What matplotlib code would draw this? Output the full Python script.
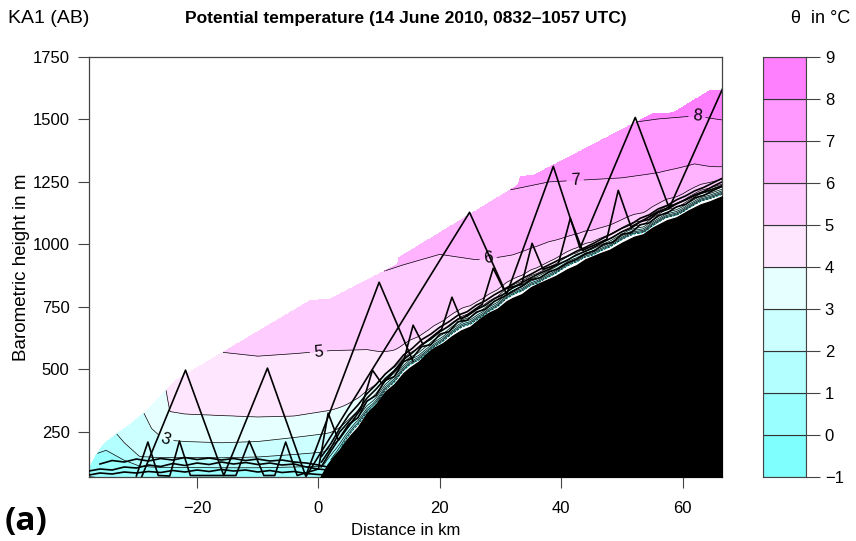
import numpy as np
import matplotlib
matplotlib.use("Agg")
import matplotlib.pyplot as plt

plt.rcParams['font.family'] = ['Liberation Sans', 'DejaVu Sans']

# ---- terrain along the cross section (km, m) ----
terrain_x = [-38.0, 0.0, 0.5, 1.5, 2.5, 3.5, 4.5, 5.3, 6.5, 8.0, 9.5, 11.0, 12.5, 14.0,
             15.0, 16.5, 18.0, 19.0, 20.5, 22.0, 23.5, 25.0, 26.5, 28.0, 29.5, 31.0,
             32.0, 33.5, 35.0, 36.0, 37.5, 39.0, 41.0, 42.5, 44.0, 46.4, 48.0, 50.0,
             52.0, 53.5, 55.0, 57.4, 59.0, 61.0, 63.0, 64.5, 66.5]
terrain_z = [40, 50, 75, 118, 150, 178, 212, 236, 268, 324, 360, 410, 440, 484,
             505, 530, 566, 585, 604, 632, 655, 670, 700, 725, 742, 772,
             785, 800, 828, 840, 856, 872, 900, 916, 940, 964, 978, 1006,
             1030, 1040, 1066, 1096, 1108, 1136, 1160, 1172, 1192]

# upper edge of the sampled area
top_x = [-37.8, -36.8, -35.4, -33.5, -31.0, -28.5, -26.5, -23.5, -1.3, 2.0,
         13.0, 13.05, 32.8, 33.3, 35.4, 55.1, 58.5, 64.5, 66.5]
top_z = [100, 150, 200, 236, 280, 330, 380, 456, 776, 782,
         920, 944, 1236, 1272, 1276, 1524, 1528, 1616, 1616]

# heights (m) of the isentropes 0..8 degC at fixed distances
col_x = [-37.8, -35, -32, -29.5, -27.5, -25.5, -24.5, -22, -16, -10, -4, 2,
         8, 14, 20, 26, 32, 38, 44, 50, 56, 62, 66.5]
th0 = [70, 62, 58, 56, 55, 55, 55, 55, 55, 55, 55, 58,
       120, 200, 250, 300, 360, 420, 480, 540, 600, 660, 700]
th1 = [150, 175, 135, 112, 108, 106, 106, 106, 105, 105, 108, 112,
       170, 260, 310, 360, 420, 480, 540, 600, 660, 720, 760]
th2 = [300, 290, 205, 150, 147, 146, 146, 146, 145, 148, 158, 170,
       225, 320, 370, 420, 480, 540, 600, 660, 720, 780, 820]
th3 = [450, 430, 400, 360, 262, 218, 215, 210, 205, 210, 226, 244,
       290, 380, 430, 480, 540, 600, 660, 720, 780, 840, 880]
th4 = [600, 570, 540, 510, 490, 470, 330, 320, 314, 308, 312, 335,
       375, 440, 490, 540, 600, 660, 720, 780, 840, 900, 940]
th5 = [760, 730, 700, 670, 650, 630, 620, 600, 568, 552, 562, 574,
       578, 552, 560, 620, 680, 740, 800, 860, 920, 980, 1020]
th6 = [920, 890, 860, 830, 810, 790, 780, 760, 740, 800, 840, 862,
       870, 918, 960, 938, 952, 1000, 1015, 985, 1045, 1100, 1140]
th7 = [1080, 1050, 1020, 990, 970, 950, 940, 920, 900, 960, 1000, 1040,
       1090, 1125, 1160, 1190, 1220, 1250, 1258, 1266, 1286, 1318, 1280]
th8 = [1240, 1210, 1180, 1150, 1130, 1110, 1100, 1080, 1060, 1120, 1160, 1200,
       1260, 1300, 1340, 1380, 1420, 1460, 1470, 1482, 1502, 1514, 1498]

# potential temperature right at the slope surface
surf_x = [0.5, 3, 6, 9, 12, 15, 18, 21, 24, 27, 30, 33, 36, 39, 42, 45, 48, 51,
          54, 57, 60, 63, 66.5]
surf_theta = [0.5, -0.5, -3.0, -1.0, -2.6, -4.0, -1.0, -3.2, -4.5, -1.5, -3.5, -5.0,
              -2.0, -4.0, -5.5, -2.5, -4.5, -5.5, -2.5, -4.8, -3.0, -5.2, -3.5]

# aircraft tracks (km, m)
saw_x = [-29.1, -21.9, -15.6, -8.4, -2.1, 10.0, 15.6]
saw_z = [70, 496, 74, 504, 72, 848, 530]
climb_x = [-2.0, 24.9, 31.0, 38.7, 43.1, 52.2, 57.8, 68.0]
climb_z = [72, 1128, 800, 1312, 985, 1508, 1145, 1700]
small_x = [-30.0, -28.1, -26.4, -24.5, -22.9, -21.1, -13.6, -11.4, -9.0, -7.2, -5.4, -3.5,
           0.0, 1.6, 3.3, 7.0, 8.9, 10.5, 14.0, 15.6, 17.2, 20.3, 22.0, 23.5, 27.0, 28.8,
           30.5, 33.5, 35.2, 37.0, 39.5, 41.5, 43.5, 47.5, 49.4, 51.5, 56.0, 62.0, 66.5]
small_z = [72, 208, 74, 72, 212, 74, 74, 212, 74, 74, 208, 74,
           100, 324, 215, 340, 496, 440, 530, 676, 600, 660, 788, 700, 760, 904,
           820, 840, 1004, 900, 920, 1104, 975, 1020, 1216, 1070, 1130, 1195, 1235]
valley_x = [-37.8, -36, -34, -32, -30, -28, -26, -24, -22, -20, -18, -16, -14, -12,
            -10, -8, -6, -4, -2, 0, 1.5]
valley_z1 = [92, 100, 96, 108, 104, 116, 110, 122, 114, 124, 118, 128, 120, 126,
             118, 124, 116, 120, 108, 100, 96]
valley_z2 = [76, 84, 80, 88, 84, 90, 86, 94, 88, 96, 90, 98, 92, 96,
             88, 94, 86, 90, 82, 78, 76]
valley_z3 = [120, 134, 128, 140, 132, 142, 136, 146, 138, 144, 136, 142, 134,
             140, 132, 136, 128, 124, 116, 108]
slope_x = [0.5, 2, 3.5, 5, 6.5, 8, 9.5, 11, 12.5, 14, 15.5, 17, 18.5, 20, 21.5, 23,
           24.5, 26, 27.5, 29, 30.5, 32, 33.5, 35, 36.5, 38, 39.5, 41, 42.5, 44, 45.5,
           47, 48.5, 50, 51.5, 53, 54.5, 56, 57.5, 59, 60.5, 62, 63.5, 65, 66.5]
slope_z1 = [110, 170, 225, 280, 305, 372, 395, 455, 470, 530, 545, 590, 598, 640,
            650, 690, 696, 728, 740, 772, 790, 812, 832, 858, 866, 890, 902, 925,
            940, 962, 975, 1000, 1008, 1040, 1046, 1078, 1086, 1115, 1126, 1150,
            1160, 1186, 1196, 1215, 1232]
slope_z2 = [128, 182, 248, 290, 332, 384, 420, 462, 494, 538, 566, 598, 620, 650,
            672, 700, 712, 738, 756, 782, 800, 826, 846, 866, 884, 900, 920, 936,
            958, 972, 990, 1010, 1028, 1050, 1064, 1090, 1100, 1128, 1140, 1162,
            1178, 1198, 1212, 1232, 1250]
slope_z3 = [150, 200, 262, 316, 356, 402, 438, 480, 512, 556, 584, 618, 640, 668,
            690, 716, 730, 756, 774, 798, 818, 840, 862, 880, 900, 918, 936, 952,
            972, 988, 1006, 1026, 1044, 1064, 1080, 1104, 1118, 1142, 1156, 1178,
            1194, 1214, 1228, 1246, 1264]

levels = np.arange(-1, 10)
label_levels = [3, 5, 6, 7, 8]
label_pos = [(-25.3, 216), (0.0, 568), (28.0, 936), (42.3, 1256), (62.4, 1515)]
cm_colors = ["#80FFFF", "#99FFFF", "#B3FFFF", "#CCFFFF", "#E6FFFF",
             "#FFE6FF", "#FFCCFF", "#FFB3FF", "#FF99FF", "#FF80FF"]

# ---- build the theta field on a grid ----
gx = np.linspace(-37.8, 66.5, 900)
gz = np.linspace(60, 1760, 900)
iso = np.array([th0, th1, th2, th3, th4, th5, th6, th7, th8], dtype=float)
H = np.array([np.interp(gx, col_x, row) for row in iso])
H = np.vstack([H[0] - 200, H, H[-1] + 250])

amb = np.empty((gz.size, gx.size))
for j in range(gx.size):
    amb[:, j] = np.interp(gz, H[:, j], levels)

tz = np.interp(gx, terrain_x, terrain_z)
a0 = np.array([np.interp(tz[j], H[:, j], levels) for j in range(gx.size)])
s0 = np.interp(gx, surf_x, surf_theta)
deficit = np.where(gx > 0.3, s0 - a0, 0.0)
dz = gz[:, None] - tz[None, :]
theta = amb + deficit[None, :] * np.exp(-np.clip(dz, 0, None) / 28.0)

top = np.interp(gx, top_x, top_z)
mask = (dz < 0) | (gz[:, None] > top[None, :])
theta = np.ma.masked_where(mask, theta)

# ---- figure ----
fig = plt.figure(figsize=(8.56, 5.41), dpi=100)
ax = fig.add_axes([0.104, 0.1183, 0.7395, 0.7763])

ax.contourf(gx, gz, theta, levels=levels, colors=cm_colors)
plain = [l for l in levels[:-1] if l not in label_levels]
ax.contour(gx, gz, theta, levels=plain, colors='k', linewidths=0.5)
cs = ax.contour(gx, gz, theta, levels=label_levels, colors='k', linewidths=0.5)
ax.clabel(cs, fmt='%d', fontsize=12, inline=True, inline_spacing=4, manual=label_pos)

ax.fill_between(terrain_x, terrain_z, 0, color='k', zorder=3)

for xs, zs in [(saw_x, saw_z), (climb_x, climb_z), (small_x, small_z),
               (valley_x, valley_z1), (valley_x, valley_z2), (valley_x[1:], valley_z3),
               (slope_x, slope_z1), (slope_x, slope_z2), (slope_x, slope_z3)]:
    ax.plot(xs, zs, color='k', lw=1.2, zorder=4)

ax.set_xlim(-37.8, 66.5)
ax.set_ylim(68, 1750)
ax.set_xticks([-20, 0, 20, 40, 60])
ax.set_yticks([250, 500, 750, 1000, 1250, 1500, 1750])
ax.tick_params(direction='out', length=8, width=0.8, labelsize=12, color='#444')
ax.tick_params(axis='x', pad=9)
ax.tick_params(axis='y', pad=6)
for sp in ax.spines.values():
    sp.set_color('#444')
    sp.set_linewidth(0.9)
ax.set_xlabel("Distance in km", fontsize=12, labelpad=5)
ax.set_ylabel("Barometric height in m", fontsize=13.5, labelpad=2)

# colour key
cax = fig.add_axes([0.8914, 0.1183, 0.0502, 0.7763])
cax.bar(0, 1, bottom=levels[:-1], width=1, color=cm_colors, edgecolor='#333', linewidth=0.8)
cax.set_xlim(-0.5, 0.5)
cax.set_ylim(-1, 9)
cax.set_xticks([])
cax.set_yticks(levels)
cax.yaxis.tick_right()
cax.tick_params(axis='y', direction='out', length=10, width=0.8, labelsize=12, color='#444')
for sp in cax.spines.values():
    sp.set_color('#444')

fig.text(0.009, 0.965, "KA1 (AB)", fontsize=14, va='center', ha='left')
fig.text(0.474, 0.965, "Potential temperature (14 June 2010, 0832\u20131057 UTC)",
         fontsize=12.5, fontweight='bold', va='center', ha='center')
fig.text(0.993, 0.965, "\u03b8  in \u00b0C", fontsize=13, va='center', ha='right')
fig.text(0.005, 0.036, "(a)", fontsize=24, fontweight='bold', va='center', ha='left',
         family='Open Sans')

fig.savefig("out.png", dpi=100)
